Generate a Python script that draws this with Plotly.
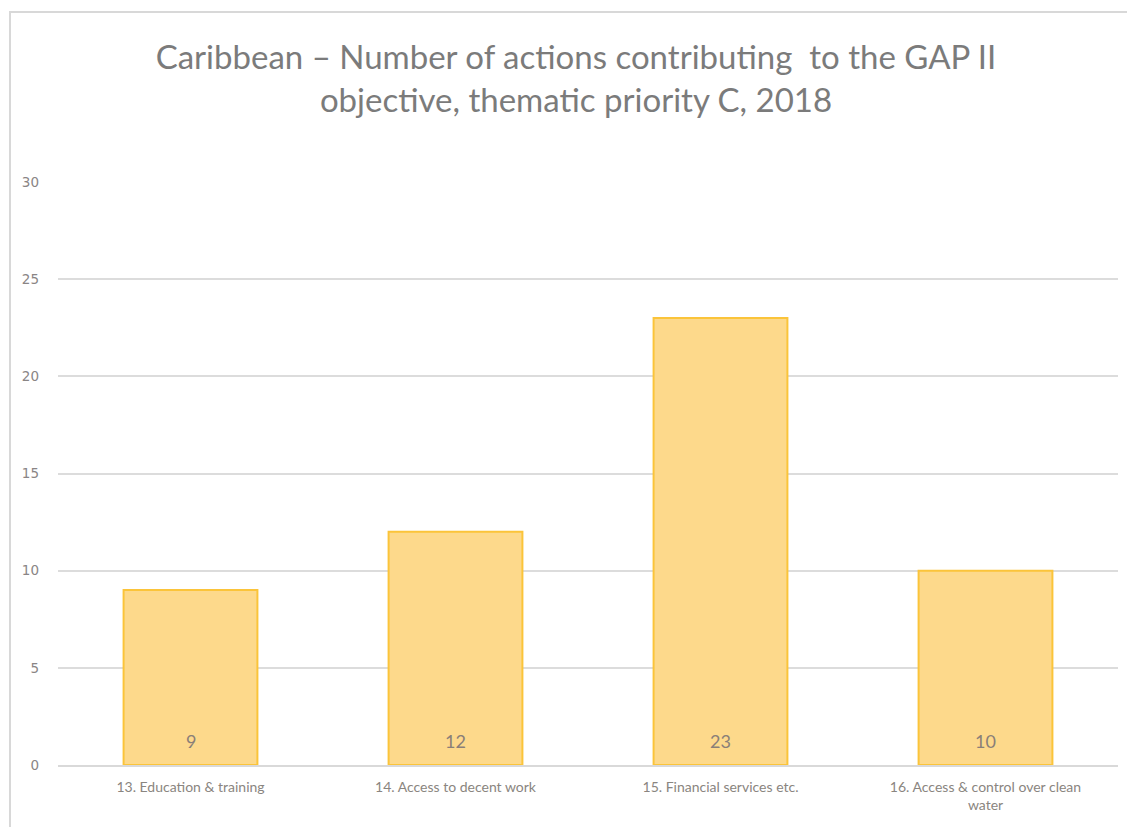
import plotly.graph_objects as go

categories = ["13. Education & training", "14. Access to decent work",
              "15. Financial services etc.", "16. Access & control over clean<br>water"]
values = [9, 12, 23, 10]
y_ticks = [0, 5, 10, 15, 20, 25, 30]

title_text = "Caribbean \u2013 Number of actions contributing  to the GAP II<br>objective, thematic priority C, 2018"

W, H = 1135, 827
L, R, T, B = 50, 25, 174, 70
pw, ph = W - L - R, H - T - B

fig = go.Figure()
fig.add_trace(go.Bar(
    x=categories, y=values,
    marker=dict(color="#FDD98B", line=dict(color="#FBC43A", width=2)),
    width=0.505,
    hoverinfo="x+y",
))

for c, v in zip(categories, values):
    fig.add_annotation(x=c, y=0, text=str(v), showarrow=False, yshift=24,
                       font=dict(family="Lato, Open Sans, sans-serif", size=18, color="#8a7f78"))

fig.update_layout(
    width=W, height=H,
    paper_bgcolor="white", plot_bgcolor="white",
    margin=dict(l=L, r=R, t=T, b=B),
    showlegend=False,
    title=dict(text=title_text, x=(576 - 8) / W, xanchor="center",
               y=1 - 61 / H, yanchor="top",
               font=dict(family="Lato, Open Sans, sans-serif", size=33, color="#7b7b7b")),
    font=dict(family="Lato, Open Sans, sans-serif", color="#8a8a8a"),
    xaxis=dict(showgrid=False, tickfont=dict(size=14, color="#8a8580"),
               showline=True, linecolor="#d9d9d9", linewidth=1.5, ticks="",
               ticklabelstandoff=8),
    yaxis=dict(range=[0, 30], tickvals=y_ticks, showgrid=True, gridcolor="#dcdcdc",
               gridwidth=1.5, zeroline=False, showline=False,
               tickfont=dict(family="DejaVu Sans, sans-serif", size=13.5, color="#8a8585"),
               ticklabelstandoff=18),
    bargap=0.495,
    shapes=[dict(type="rect", xref="paper", yref="paper",
                 x0=(2 - L) / pw, x1=(W + 10 - L) / pw,
                 y0=-(B + 20) / ph, y1=(H - 4 - B) / ph,
                 line=dict(color="#d8d8d8", width=2), fillcolor="rgba(0,0,0,0)", layer="below")],
)

fig.write_html("out.html")
